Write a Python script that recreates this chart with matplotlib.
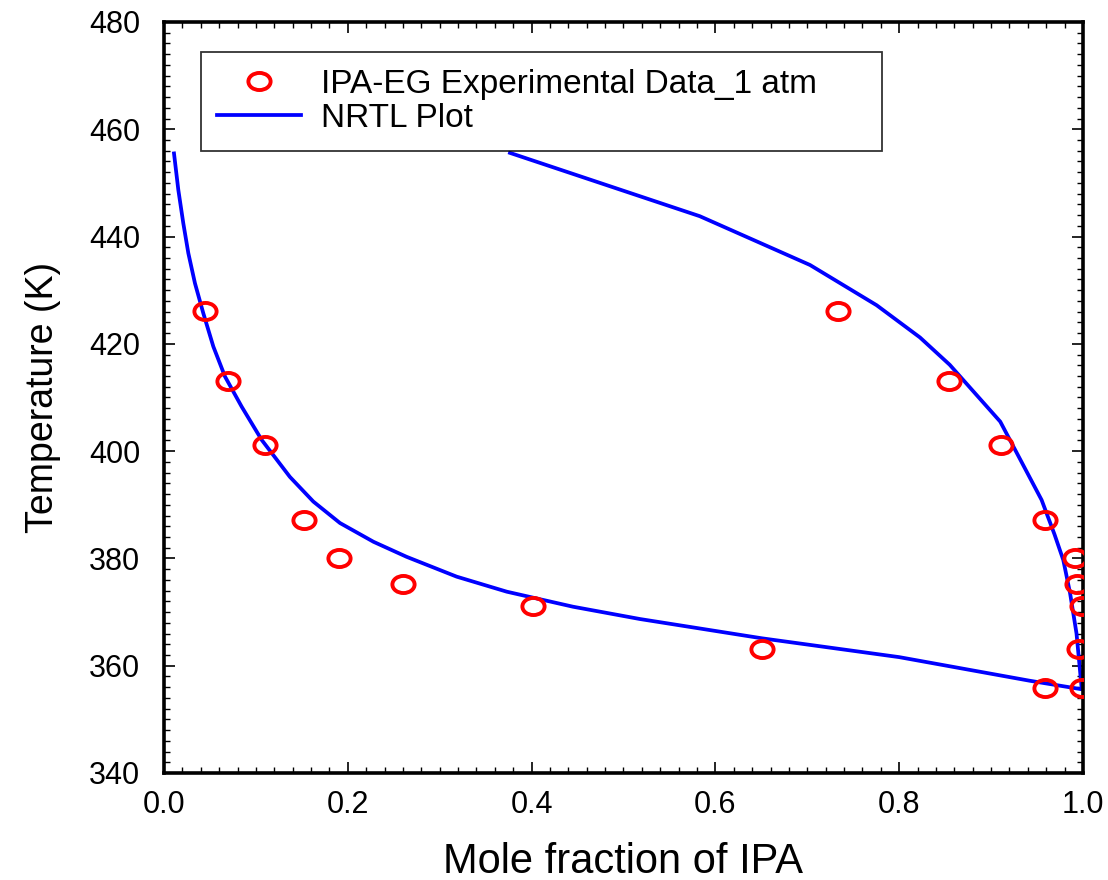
import numpy as np
import matplotlib
matplotlib.use("Agg")
import matplotlib.pyplot as plt
from matplotlib.path import Path
from matplotlib.ticker import MultipleLocator

plt.rcParams['font.family'] = ['Liberation Sans', 'DejaVu Sans']

# Experimental data (T in K)
exp_T = [426.2, 413.1, 401.1, 387.2, 380.1, 375.2, 371.1, 363.2, 355.8]
exp_x = [0.045, 0.070, 0.110, 0.152, 0.190, 0.260, 0.402, 0.651, 0.959]
exp_y = [0.733, 0.854, 0.911, 0.959, 0.991, 0.993, 0.999, 0.996, 0.999]

# NRTL bubble curve (liquid)
nrtl_bub_x = [0.0109, 0.0156, 0.021, 0.0265, 0.0337, 0.0428, 0.0537, 0.0664,
              0.0845, 0.1063, 0.137, 0.1625, 0.1915, 0.228, 0.264, 0.3185,
              0.373, 0.445, 0.518, 0.651, 0.80, 0.942, 0.999]
nrtl_bub_T = [455.5, 448.7, 442.5, 436.9, 431.3, 425.7, 419.5, 413.9,
              408.3, 402.1, 395.2, 390.6, 386.6, 383.1, 380.3, 376.6,
              373.8, 371.0, 368.7, 365.1, 361.6, 357.2, 355.6]

# NRTL dew curve (vapour)
nrtl_dew_x = [0.3765, 0.583, 0.703, 0.7755, 0.8226, 0.855, 0.910, 0.955,
              0.969, 0.9786, 0.986, 0.993, 0.9986]
nrtl_dew_T = [455.6, 443.8, 434.7, 427.2, 421.2, 416.1, 405.5, 390.9,
              384.5, 379.7, 373.5, 366.0, 355.8]

fig = plt.figure(figsize=(11.08, 8.8), dpi=100)
ax = fig.add_axes([0.148, 0.1216, 0.8294, 0.8534])

# elliptical open-circle marker
circ = Path.unit_circle()
ell = Path(circ.vertices * np.array([1.0, 0.77]), circ.codes)

mk = dict(linestyle='none', marker=ell, markersize=16,
          markerfacecolor='none', markeredgecolor='#ff0000', markeredgewidth=2.8)
ax.plot(exp_x, exp_T, label='IPA-EG Experimental Data_1 atm', zorder=3, **mk)
ax.plot(nrtl_bub_x, nrtl_bub_T, color='#0000ff', lw=2.7, label='NRTL Plot', zorder=2)
ax.plot(nrtl_dew_x, nrtl_dew_T, color='#0000ff', lw=2.7, zorder=2)
ax.plot(exp_y, exp_T, zorder=3, **mk)

ax.set_xlim(0, 1.0)
ax.set_ylim(340, 480)
ax.xaxis.set_major_locator(MultipleLocator(0.2))
ax.xaxis.set_minor_locator(MultipleLocator(0.02))
ax.yaxis.set_major_locator(MultipleLocator(20))
ax.yaxis.set_minor_locator(MultipleLocator(2))
ax.xaxis.set_major_formatter(matplotlib.ticker.FormatStrFormatter('%.1f'))

ax.tick_params(which='both', direction='in', top=True, right=True, labelsize=22)
ax.tick_params(axis='y', which='major', pad=17)
ax.tick_params(axis='x', which='major', pad=12)
ax.tick_params(which='major', length=8, width=1.2)
ax.tick_params(which='minor', length=4.5, width=1.0)
for s in ax.spines.values():
    s.set_linewidth(2.6)

ax.set_xlabel('Mole fraction of IPA', fontsize=30, labelpad=16)
ax.set_ylabel('Temperature (K)', fontsize=27, labelpad=20)

leg = ax.legend(loc='upper left', bbox_to_anchor=(0.040, 0.828, 0.741, 0.132),
                mode='expand', borderaxespad=0, fontsize=24, frameon=True,
                fancybox=False, edgecolor='black', handlelength=2.5,
                handletextpad=0.6, borderpad=0.5, labelspacing=0.1)
leg.get_frame().set_linewidth(1.3)

fig.savefig('out.png', dpi=100)
